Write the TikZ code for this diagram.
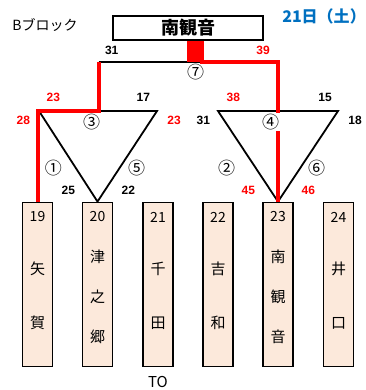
\documentclass[tikz,border=0pt]{standalone}
\usepackage{fontspec}
\setmainfont{Liberation Sans}
\newfontfamily\jpfont{Noto Sans CJK JP}
\usetikzlibrary{backgrounds}
\definecolor{teamfill}{RGB}{252,233,219}
\definecolor{dayblue}{RGB}{0,112,192}

\begin{document}
\begin{tikzpicture}[x=1pt,y=-1pt,
    team/.style={draw, line width=1.8pt, fill=teamfill, minimum width=30pt, minimum height=164pt, inner sep=0pt},
    seed/.style={font=\jpfont\fontsize{14}{14}\selectfont, inner sep=0pt},
    kanji/.style={font=\jpfont\fontsize{15}{15}\selectfont, inner sep=0pt},
    score/.style={font=\bfseries\fontsize{12}{12}\selectfont, inner sep=0pt},
    game/.style={font=\jpfont\fontsize{17}{17}\selectfont, inner sep=1pt},
    line/.style={line width=1.8pt},
    win/.style={red, line width=4pt}]
    \useasboundingbox (0,0) rectangle (365,390);

    % heading
    \node[font=\jpfont\fontsize{14}{14}\selectfont] (block) at (45,25.5) {Bブロック};
    \node[font=\jpfont\bfseries\fontsize{16}{16}\selectfont, text=dayblue] (day) at (324,16) {21日（土）};
    \node[draw, line width=1.8pt, minimum width=150pt, minimum height=23pt, font=\jpfont\bfseries\fontsize{18}{18}\selectfont] (final) at (188,27.7) {南観音};

    % teams
    \node[team] (t19) at (37.5,284.5) {};
    \node[seed] (n19) at (37.5,217) {19};
    \node[kanji] (a19) at (37.5,269) {矢};
    \node[kanji] (b19) at (37.5,323) {賀};

    \node[team] (t20) at (97.5,284.5) {};
    \node[seed] (n20) at (97.5,217) {20};
    \node[kanji] (a20) at (97.5,257) {津};
    \node[kanji] (b20) at (97.5,297) {之};
    \node[kanji] (c20) at (97.5,337) {郷};

    \node[team] (t21) at (158,284.5) {};
    \node[seed] (n21) at (158,217) {21};
    \node[kanji] (a21) at (158,269) {千};
    \node[kanji] (b21) at (158,323) {田};
    \node[kanji] (to21) at (158,381.5) {TO};

    \node[team] (t22) at (218,284.5) {};
    \node[seed] (n22) at (218,217) {22};
    \node[kanji] (a22) at (218,269) {吉};
    \node[kanji] (b22) at (218,323) {和};

    \node[team] (t23) at (278,284.5) {};
    \node[seed] (n23) at (278,217) {23};
    \node[kanji] (a23) at (278,257) {南};
    \node[kanji] (b23) at (278,297) {観};
    \node[kanji] (c23) at (278,337) {音};

    \node[team] (t24) at (338.5,284.5) {};
    \node[seed] (n24) at (338.5,217) {24};
    \node[kanji] (a24) at (338.5,269) {井};
    \node[kanji] (b24) at (338.5,323) {口};

    % bracket points
    \coordinate (lt1) at (39,111);
    \coordinate (lt5) at (157,111);
    \coordinate (j3)  at (98.5,111);
    \coordinate (rt2) at (218,111);
    \coordinate (rt6) at (338,111);
    \coordinate (k3)  at (98.5,62);
    \coordinate (k7)  at (200,62);
    \coordinate (k4)  at (278,62);

    \begin{scope}[on background layer]
        \draw[line] (lt1) -- (lt5) -- (t20.north) -- cycle;
        \draw[line] (rt2) -- (rt6) -- (t23.north) -- cycle;
        \draw[line] (k3) -- (k7);
        \draw[win] (t19.north) -- (t19.north |- j3) -- (j3) -- (k3);
        \draw[win] (k7) -- (k4) -- (t23.north);
        \fill[red] (187,39) rectangle (204,62);
    \end{scope}

    % games
    \node[game] (m7) at (195.7,71.7) {⑦};
    \node[game] (m3) at (91.7,121.7) {③};
    \node[game, fill=white] (m4) at (270.5,121.7) {④};
    \node[game] (m1) at (53.3,168.3) {①};
    \node[game] (m5) at (136.7,168.3) {⑤};
    \node[game] (m2) at (226.7,168.3) {②};
    \node[game] (m6) at (316.7,168.3) {⑥};

    % scores
    \node[score] (s31a) at (111.7,50.7) {31};
    \node[score, red] (s39) at (263,50.7) {39};
    \node[score, red] (s23a) at (53.3,97.3) {23};
    \node[score] (s17) at (143.3,97.3) {17};
    \node[score, red] (s28) at (23.3,120.7) {28};
    \node[score, red] (s23b) at (174,120.7) {23};
    \node[score] (s25) at (68.3,190.7) {25};
    \node[score] (s22) at (128.3,190.7) {22};
    \node[score, red] (s38) at (233.3,97.3) {38};
    \node[score] (s15) at (325,97.3) {15};
    \node[score] (s31b) at (203.3,120.7) {31};
    \node[score] (s18) at (355,120.7) {18};
    \node[score, red] (s45) at (248.3,190.7) {45};
    \node[score, red] (s46) at (308.3,190.7) {46};
\end{tikzpicture}
\end{document}
